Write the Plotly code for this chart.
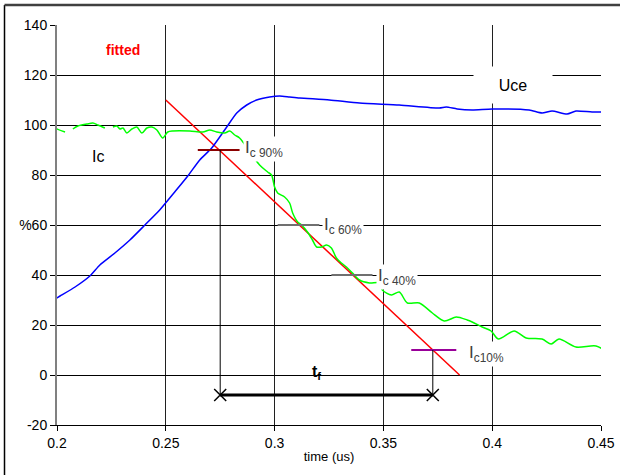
import plotly.graph_objects as go

# ---- data ----
uce_t = [0.1959, 0.2014, 0.2083, 0.2151, 0.2197, 0.2266, 0.2335, 0.2404, 0.2472, 0.2541,
         0.2601, 0.2656, 0.2711, 0.2780, 0.2826, 0.2872, 0.2917, 0.2977, 0.3023, 0.3069,
         0.3115, 0.3252, 0.3390, 0.3573, 0.3757, 0.3789, 0.3839, 0.3908, 0.4000, 0.4170,
         0.4229, 0.4275, 0.4344, 0.4385, 0.4459, 0.4528]
uce_v = [28.8, 31.6, 35.2, 39.6, 44.0, 48.8, 54.0, 60.0, 66.0, 73.2,
         79.6, 86.0, 90.8, 99.2, 104.8, 108.0, 110.0, 111.2, 111.6, 111.2,
         110.8, 110.0, 108.8, 108.0, 106.8, 107.2, 106.4, 106.0, 106.4, 106.0,
         104.8, 105.6, 104.4, 105.6, 105.2, 105.2]

ic_t = [0.1968, 0.1991, 0.2037, None, 0.2073, 0.2096, 0.2138, 0.2165, 0.2188, 0.2220, None,
        0.2257, 0.2275, 0.2289, 0.2303, 0.2321, 0.2344, 0.2367, 0.2390, 0.2413, 0.2436,
        0.2459, 0.2486, 0.2509, 0.2532, 0.2610, 0.2670, 0.2702, 0.2734, 0.2771, 0.2794,
        0.2817, 0.2839, 0.2931, 0.2968, 0.2986, 0.3000, 0.3014, 0.3046, 0.3069, 0.3083,
        0.3106, 0.3124, 0.3151, 0.3174, 0.3193, 0.3216, 0.3239, 0.3261, 0.3284, 0.3307,
        0.3330, 0.3358, 0.3390, 0.3436, 0.3482, 0.3495, 0.3537, 0.3573, 0.3610, 0.3665,
        0.3725, 0.3780, 0.3835, 0.3885, 0.3908, 0.3954, 0.3995, 0.4028, 0.4101, 0.4156,
        0.4229, 0.4271, 0.4307, 0.4385, 0.4477, 0.4528]
ic_v = [100.8, 98.8, 97.2, None, 98.4, 99.6, 100.4, 100.8, 100.0, 98.8, None,
        99.2, 99.6, 98.4, 98.8, 96.8, 98.4, 99.2, 96.8, 98.8, 99.2,
        98.0, 94.8, 97.2, 97.6, 97.6, 97.2, 98.0, 97.2, 96.8, 97.6,
        96.0, 94.8, 84.0, 81.2, 80.0, 75.2, 72.8, 71.2, 68.8, 64.8,
        61.2, 60.0, 57.2, 54.0, 51.2, 51.2, 52.0, 50.8, 46.8, 44.8,
        43.2, 40.8, 38.0, 36.8, 36.8, 34.0, 32.0, 33.2, 28.8, 28.8,
        24.8, 21.6, 23.2, 22.0, 21.2, 19.2, 17.6, 14.4, 17.6, 14.8,
        14.4, 12.4, 14.4, 11.2, 11.6, 9.2]

fit_t = [0.25, 0.385]
fit_v = [110, 0]

lvl90_t = [0.2647, 0.2839]; lvl90_v = [90, 90]
lvl60_t = [0.3014, 0.3206]; lvl60_v = [60, 60]
lvl40_t = [0.3261, 0.3450]; lvl40_v = [40, 40]
lvl10_t = [0.3628, 0.3835]; lvl10_v = [10, 10]

t90 = 0.275
t10 = 0.3727
tf_y = -8

x_ticks = [0.2, 0.25, 0.3, 0.35, 0.4, 0.45]
x_ticktext = ["0.2", "0.25", "0.3", "0.35", "0.4", "0.45"]
y_ticks = [-20, 0, 20, 40, 60, 80, 100, 120, 140]
y_ticktext = ["-20", "0", "20", "40", "%60", "80", "100", "120", "140"]

FONT = "Arial, Liberation Sans, sans-serif"

fig = go.Figure()

fig.add_trace(go.Scatter(x=fit_t, y=fit_v, mode="lines", line=dict(color="#ff0000", width=1.5)))
fig.add_trace(go.Scatter(x=uce_t, y=uce_v, mode="lines", line=dict(color="#0000ff", width=1.5, shape="spline", smoothing=0.6)))
fig.add_trace(go.Scatter(x=ic_t, y=ic_v, mode="lines", line=dict(color="#00ff00", width=1.5, shape="spline", smoothing=0.8), connectgaps=False))

fig.add_trace(go.Scatter(x=lvl90_t, y=lvl90_v, mode="lines", line=dict(color="#8b0000", width=2)))
fig.add_trace(go.Scatter(x=lvl60_t, y=lvl60_v, mode="lines", line=dict(color="#707070", width=2)))
fig.add_trace(go.Scatter(x=lvl40_t, y=lvl40_v, mode="lines", line=dict(color="#707070", width=2)))
fig.add_trace(go.Scatter(x=lvl10_t, y=lvl10_v, mode="lines", line=dict(color="#990099", width=2)))

fig.add_trace(go.Scatter(x=[t90, t90], y=[90, tf_y], mode="lines", line=dict(color="#000000", width=1)))
fig.add_trace(go.Scatter(x=[t10, t10], y=[10, tf_y], mode="lines", line=dict(color="#000000", width=1)))
fig.add_trace(go.Scatter(x=[t90, t10], y=[tf_y, tf_y], mode="lines+markers",
                         line=dict(color="#000000", width=3),
                         marker=dict(symbol="x-thin", size=12, line=dict(color="#000000", width=1.5))))

lab = dict(font=dict(family=FONT, size=17, color="#404040"), showarrow=False,
           bgcolor="#ffffff", borderpad=1, xanchor="left", yanchor="middle")
fig.add_annotation(x=0.2853, y=90.6, text="I<sub>c 90%</sub>", **lab)
fig.add_annotation(x=0.3220, y=59.6, text="I<sub>c 60%</sub>", **lab)
fig.add_annotation(x=0.3468, y=39.4, text="I<sub>c 40%</sub>", **lab)
fig.add_annotation(x=0.3885, y=8.4, text="I<sub>c10%</sub>", **lab)

fig.add_annotation(x=0.2303, y=130, text="<b>fitted</b>", showarrow=False,
                   font=dict(family=FONT, size=14, color="#ff0000"))
fig.add_annotation(x=0.2188, y=87.6, text="Ic", showarrow=False,
                   font=dict(family=FONT, size=16, color="#000000"))
fig.add_annotation(x=0.4095, y=116, text="Uce", showarrow=False, width=72, height=30,
                   bgcolor="#ffffff", borderpad=3,
                   font=dict(family=FONT, size=16, color="#000000"))
fig.add_annotation(x=0.3193, y=1.2, text="<b>t<sub>f</sub></b>", showarrow=False,
                   font=dict(family=FONT, size=16, color="#000000"))

# outer frame (left and top edge of the original figure)
fig.add_shape(type="line", xref="paper", yref="paper", layer="above",
              x0=-0.0965, x1=-0.0965, y0=1.05, y1=-0.14,
              line=dict(color="#000000", width=1.5))
fig.add_shape(type="line", xref="paper", yref="paper", layer="above",
              x0=-0.0965, x1=1.035, y0=1.05, y1=1.05,
              line=dict(color="#404040", width=2.5))

fig.update_layout(
    width=620, height=475,
    margin=dict(l=57, r=19, t=25, b=50, autoexpand=False),
    paper_bgcolor="#ffffff", plot_bgcolor="#ffffff",
    showlegend=False,
    font=dict(family=FONT, size=14, color="#000000"),
    xaxis=dict(range=[0.2, 0.45], tickvals=x_ticks, ticktext=x_ticktext,
               automargin=False,
               showgrid=True, gridcolor="#202020", gridwidth=1,
               showline=True, linecolor="#000000", linewidth=1,
               ticks="outside", ticklen=5, tickcolor="#000000",
               zeroline=False,
               title=dict(text="time (us)", font=dict(size=13), standoff=2)),
    yaxis=dict(range=[-20, 140], tickvals=y_ticks, ticktext=y_ticktext,
               automargin=False,
               showgrid=True, gridcolor="#000000", gridwidth=1,
               showline=True, linecolor="#808080", linewidth=2,
               ticks="outside", ticklen=5, tickcolor="#000000",
               zeroline=False),
)

fig.write_html("out.html", config={"displayModeBar": False},
               post_script="document.body.style.margin='0';document.body.style.overflow='hidden';")
